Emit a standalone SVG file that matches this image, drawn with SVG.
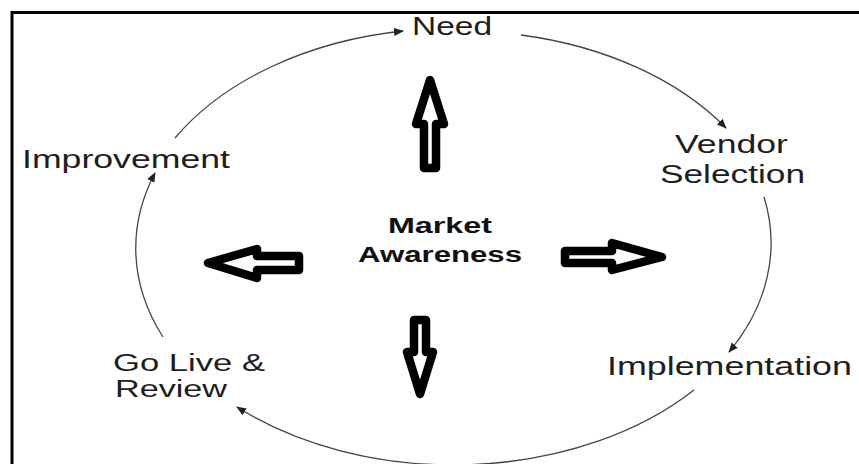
<svg xmlns="http://www.w3.org/2000/svg" width="859" height="464" viewBox="0 0 859 464">
<style>
.lbl{font-family:"Liberation Sans",Arial,sans-serif;font-size:25px;fill:#1e1e1e;}
.sm{font-size:23px;}
.ctr{font-family:"Liberation Sans",Arial,sans-serif;font-size:22px;font-weight:bold;fill:#111;}
.conn{fill:none;stroke:#444;stroke-width:1.3;}
.blk{fill:#fff;stroke:#000;stroke-width:8.5;stroke-linejoin:round;}
</style>
<defs>
<marker id="ah" viewBox="0 0 10 10" refX="9" refY="5" markerWidth="10" markerHeight="10" markerUnits="userSpaceOnUse" orient="auto">
<path d="M0,1 L10,5 L0,9 Z" fill="#222"/>
</marker>
</defs>
<rect width="859" height="464" fill="#fff"/>
<path d="M12,464 V12.5 H859" fill="none" stroke="#000" stroke-width="3"/>
<g id="connectors">
<path class="conn" d="M175,138 A320,220 0 0,1 403,31" marker-end="url(#ah)"/>
<path class="conn" d="M521,35 A320,220 0 0,1 726,128" marker-end="url(#ah)"/>
<path class="conn" d="M764,197 A320,220 0 0,1 729,352" marker-end="url(#ah)"/>
<path class="conn" d="M694,390 A320,220 0 0,1 237,407" marker-end="url(#ah)"/>
<path class="conn" d="M163,337 A320,220 0 0,1 155,173" marker-end="url(#ah)"/>
</g>
<g id="block-arrows">
<polygon class="blk" points="430,80 444,124 436,124 436,168 424,168 424,124 416,124"/>
<polygon class="blk" points="208,263 257,249 257,256 299,256 299,270 257,270 257,278"/>
<polygon class="blk" points="565,251 612,251 612,243 662,257 612,270 612,263 565,263"/>
<polygon class="blk" points="414,320 426,320 426,352 433,352 420,394 407,352 414,352"/>
</g>
<g id="need"><text class="lbl" x="412" y="35" textLength="80" lengthAdjust="spacingAndGlyphs">Need</text></g>
<g id="vendor"><text class="lbl" x="675" y="153" textLength="113" lengthAdjust="spacingAndGlyphs">Vendor</text><text class="lbl" x="660" y="183" textLength="145" lengthAdjust="spacingAndGlyphs">Selection</text></g>
<g id="implementation"><text class="lbl" x="607" y="375" textLength="245" lengthAdjust="spacingAndGlyphs">Implementation</text></g>
<g id="golive"><text class="lbl sm" x="113" y="371" textLength="152" lengthAdjust="spacingAndGlyphs">Go Live &amp;</text><text class="lbl sm" x="115" y="397" textLength="112" lengthAdjust="spacingAndGlyphs">Review</text></g>
<g id="improvement"><text class="lbl" x="22" y="168" textLength="208" lengthAdjust="spacingAndGlyphs">Improvement</text></g>
<g id="market"><text class="ctr" x="388" y="233" textLength="104" lengthAdjust="spacingAndGlyphs">Market</text><text class="ctr" x="358" y="262" textLength="164" lengthAdjust="spacingAndGlyphs">Awareness</text></g>
</svg>
